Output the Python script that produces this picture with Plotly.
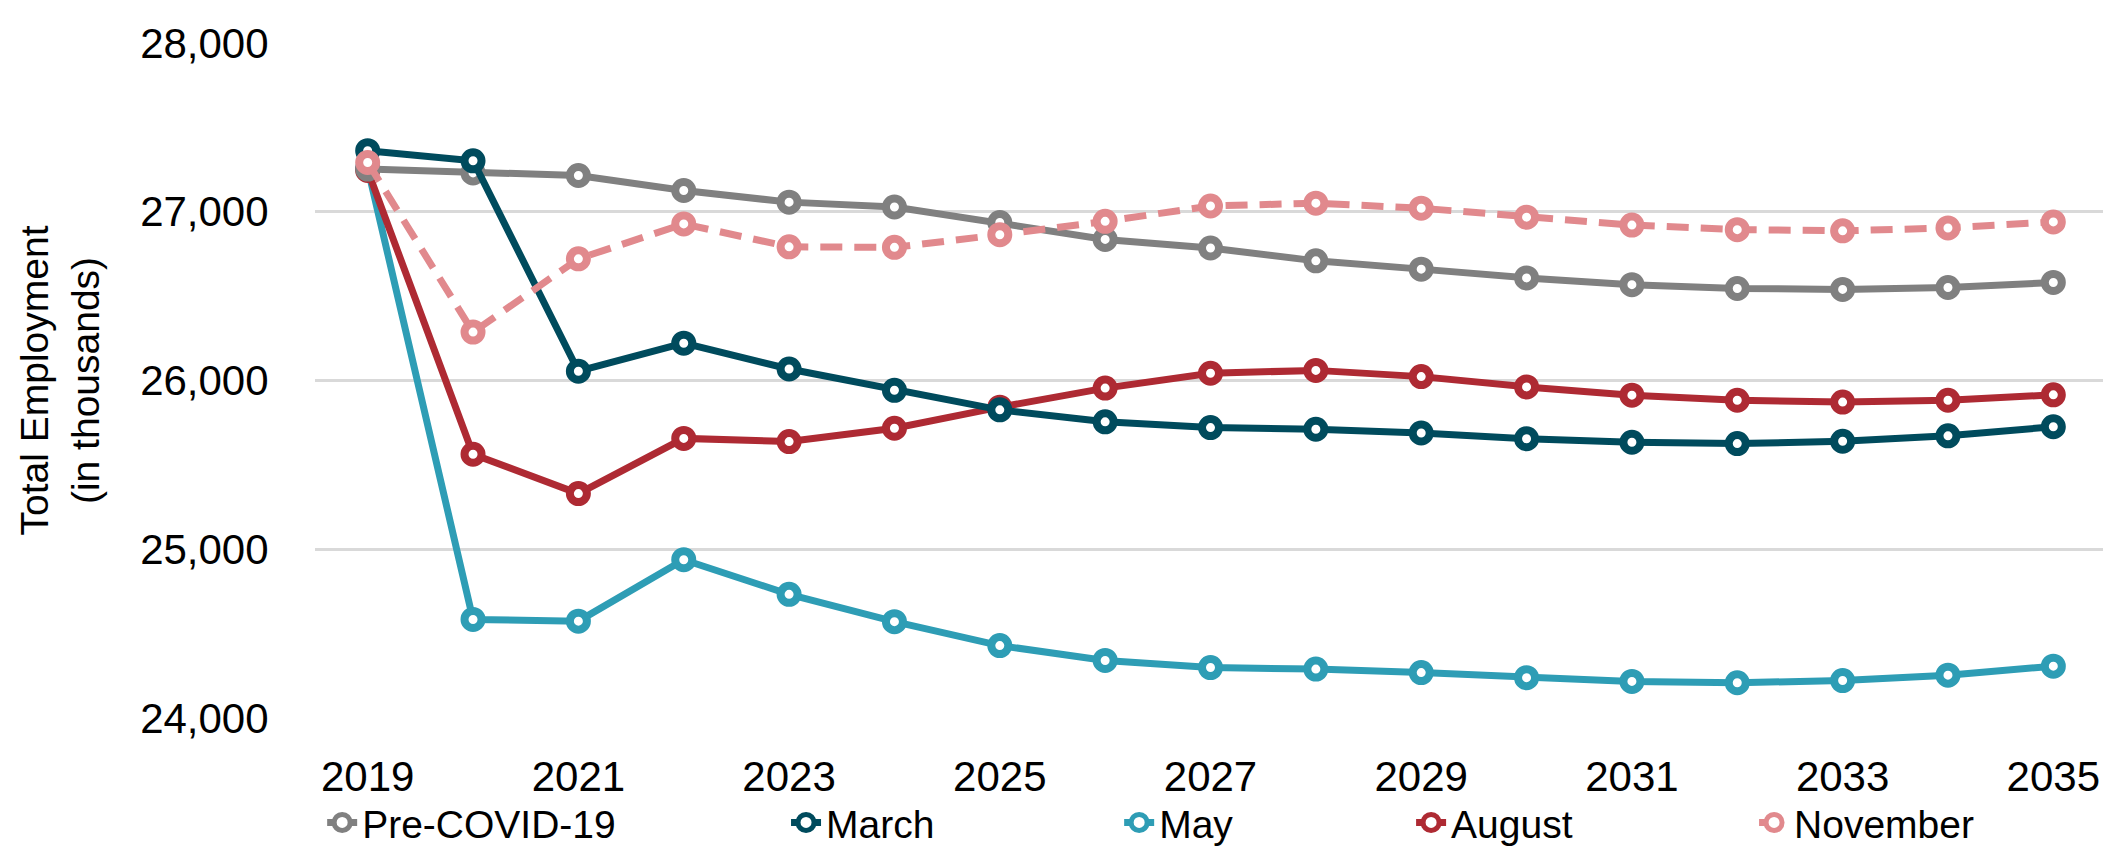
import plotly.graph_objects as go

years = list(range(2019, 2036))
pre_covid = [27253, 27230, 27215, 27126, 27057, 27028, 26936, 26836, 26785, 26709, 26660, 26608, 26568, 26545, 26540, 26551, 26581]
march = [27362, 27302, 26055, 26221, 26068, 25942, 25826, 25755, 25721, 25711, 25689, 25655, 25634, 25626, 25640, 25672, 25726]
may = [27260, 24584, 24574, 24938, 24733, 24571, 24429, 24341, 24299, 24290, 24269, 24239, 24217, 24209, 24222, 24254, 24307]
august = [27245, 25563, 25330, 25657, 25638, 25717, 25842, 25955, 26043, 26060, 26023, 25962, 25913, 25883, 25872, 25883, 25915]
november = [27292, 26287, 26721, 26928, 26792, 26789, 26864, 26943, 27034, 27051, 27021, 26968, 26921, 26894, 26887, 26904, 26940]

series = [
    ("Pre-COVID-19", pre_covid, "#808080", "solid", "legend"),
    ("March", march, "#004B5D", "solid", "legend2"),
    ("May", may, "#2E9DB5", "solid", "legend3"),
    ("August", august, "#AE2A33", "solid", "legend4"),
    ("November", november, "#E1898D", "22px,12px", "legend5"),
]

x_ticks = list(range(2019, 2036, 2))
y_ticks = [24000, 25000, 26000, 27000, 28000]

FONT = "Liberation Sans, Arial, sans-serif"

fig = go.Figure()
order = [2, 3, 0, 1, 4]
for i in order:
    name, vals, color, dash, leg = series[i]
    fig.add_trace(go.Scatter(
        x=years, y=vals, name=name, mode="lines+markers",
        line=dict(color=color, width=7, dash=dash),
        marker=dict(symbol="circle", size=17, color="white",
                    line=dict(color=color, width=8)),
        legend=leg,
    ))

legend_x = [0.004, 0.263, 0.449, 0.612, 0.8035]
leg_common = dict(orientation="h", y=-0.155, yanchor="middle", xanchor="left",
                  font=dict(family=FONT, size=39, color="black"),
                  bgcolor="rgba(0,0,0,0)", itemwidth=30)
layout_legends = {}
for k, key in enumerate(["legend", "legend2", "legend3", "legend4", "legend5"]):
    layout_legends[key] = dict(leg_common, x=legend_x[k])

fig.update_layout(
    width=2111, height=859,
    margin=dict(l=307, r=13, t=29, b=122),
    paper_bgcolor="white", plot_bgcolor="white",
    font=dict(family=FONT, size=39, color="black"),
    showlegend=True,
    **layout_legends,
)
fig.update_xaxes(
    range=[2018.5, 2035.5], tickvals=x_ticks, ticktext=[str(v) for v in x_ticks],
    showgrid=False, zeroline=False, showline=False,
    ticks="outside", ticklen=22, tickcolor="rgba(0,0,0,0)",
    tickfont=dict(family=FONT, size=42, color="black"),
)
fig.update_yaxes(
    range=[24000, 28000], tickvals=y_ticks, tickformat=",d",
    showgrid=True, gridcolor="#D9D9D9", gridwidth=2.5, zeroline=False, showline=False,
    ticks="outside", ticklen=37, tickcolor="rgba(0,0,0,0)",
    tickfont=dict(family=FONT, size=42, color="black"),
    title=dict(text="Total Employment<br>(in thousands)", standoff=28,
               font=dict(family=FONT, size=39, color="black")),
)
fig.write_html("out.html")
